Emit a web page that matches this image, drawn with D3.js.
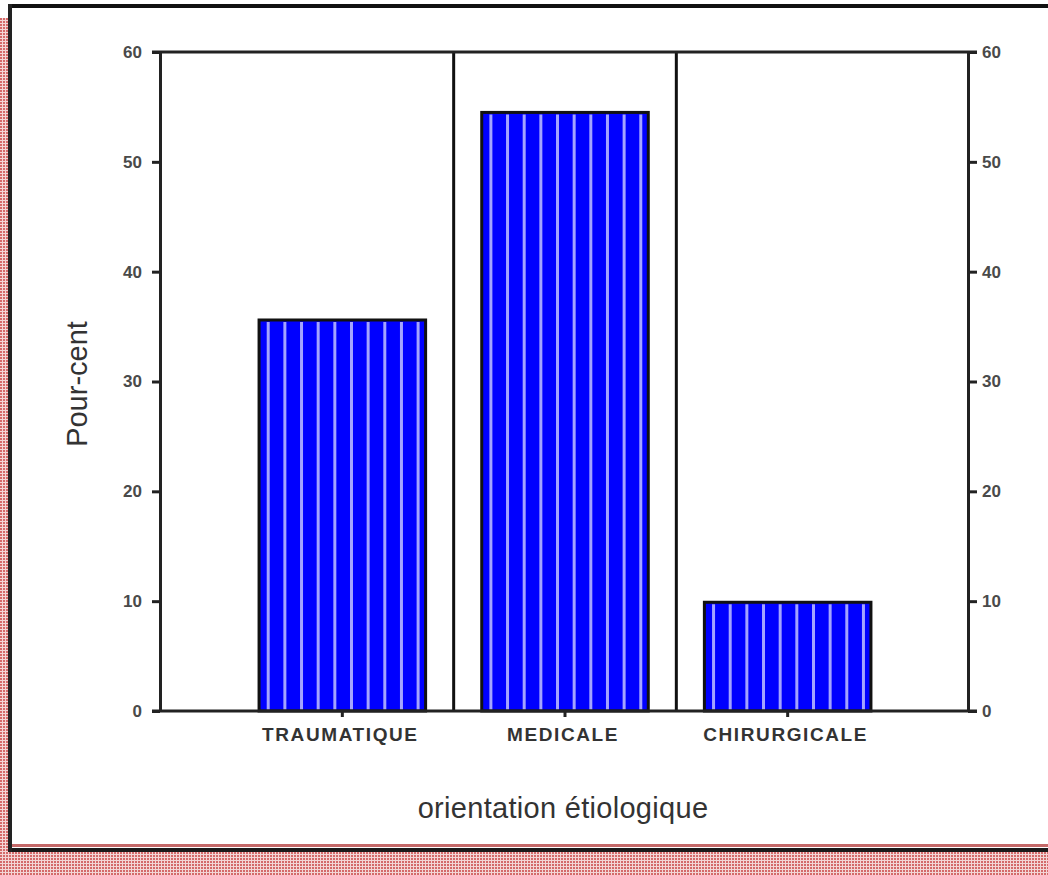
<!DOCTYPE html>
<html>
<head>
<meta charset="utf-8">
<script src="https://cdn.jsdelivr.net/npm/d3@7"></script>
<style>
  body { margin: 0; background: #fff; }
  svg { display: block; }
</style>
</head>
<body>
<div id="chart"></div>
<script>
const categories = ["TRAUMATIQUE", "MEDICALE", "CHIRURGICALE"];
const values = [35.6, 54.5, 9.9];
const yTicks = [0, 10, 20, 30, 40, 50, 60];
const xTitle = "orientation étiologique";
const yTitle = "Pour-cent";

const W = 1048, H = 875;
const plotLeft = 160, plotRight = 968, plotTop = 52, plotBottom = 711;

const svg = d3.select("#chart").append("svg")
  .attr("width", W).attr("height", H);

// dotted red frame pattern
const defs = svg.append("defs");
const pat = defs.append("pattern")
  .attr("id", "dots").attr("width", 3).attr("height", 3)
  .attr("patternUnits", "userSpaceOnUse");
pat.append("rect").attr("width", 3).attr("height", 3).attr("fill", "#f3d6d6");
pat.append("rect").attr("width", 2).attr("height", 2).attr("fill", "#d46a6a");

svg.append("rect").attr("width", W).attr("height", H).attr("fill", "#fff");
svg.append("rect").attr("x", 0).attr("y", 18).attr("width", 8).attr("height", H - 18).attr("fill", "url(#dots)");
svg.append("rect").attr("x", 0).attr("y", 852).attr("width", W).attr("height", H - 852).attr("fill", "url(#dots)");
svg.append("rect").attr("x", 9).attr("y", 844).attr("width", W - 9).attr("height", 3).attr("fill", "#c46868");
svg.append("rect").attr("x", 9).attr("y", 848).attr("width", W - 9).attr("height", 4).attr("fill", "#1a1a1a");
svg.append("rect").attr("x", 8).attr("y", 4).attr("width", W - 8).attr("height", 4).attr("fill", "#111");
svg.append("rect").attr("x", 8).attr("y", 4).attr("width", 4).attr("height", 848).attr("fill", "#222");

const x = d3.scaleBand().domain(categories).range([231, 899]).padding(0);
const y = d3.scaleLinear().domain([0, 60]).range([plotBottom, plotTop]);

const inset = x.bandwidth() * 0.126;

// bars
const bars = svg.append("g").selectAll("g").data(categories).join("g");
bars.append("rect")
  .attr("x", d => x(d) + inset)
  .attr("y", (d, i) => y(values[i]))
  .attr("width", x.bandwidth() - 2 * inset)
  .attr("height", (d, i) => y(0) - y(values[i]))
  .attr("fill", "#0000ff");
bars.each(function(d, i) {
  const g = d3.select(this);
  const bw = x.bandwidth() - 2 * inset;
  d3.range(10).forEach(k => {
    const sx = x(d) + inset + (k + 0.55) * bw / 10;
    g.append("line")
      .attr("x1", sx).attr("x2", sx)
      .attr("y1", y(values[i]) + 2).attr("y2", y(0))
      .attr("stroke", "#a4a4ff").attr("stroke-width", 3);
  });
});
bars.append("rect")
  .attr("x", d => x(d) + inset)
  .attr("y", (d, i) => y(values[i]))
  .attr("width", x.bandwidth() - 2 * inset)
  .attr("height", (d, i) => y(0) - y(values[i]))
  .attr("fill", "none").attr("stroke", "#111").attr("stroke-width", 3);

// dividers between categories
svg.append("g").selectAll("line").data(categories.slice(1)).join("line")
  .attr("x1", d => x(d)).attr("x2", d => x(d))
  .attr("y1", plotTop).attr("y2", plotBottom)
  .attr("stroke", "#111").attr("stroke-width", 3);

// frame top line
svg.append("line").attr("x1", 152).attr("x2", 977).attr("y1", plotTop).attr("y2", plotTop)
  .attr("stroke", "#222").attr("stroke-width", 3);

// axes
const axisFont = "'Liberation Sans', Arial, sans-serif";
const left = svg.append("g").attr("transform", `translate(${plotLeft},0)`)
  .call(d3.axisLeft(y).tickValues(yTicks).tickSize(8).tickSizeOuter(0).tickPadding(10));
const right = svg.append("g").attr("transform", `translate(${plotRight},0)`)
  .call(d3.axisRight(y).tickValues(yTicks).tickSize(9).tickSizeOuter(0).tickPadding(5));
const bottom = svg.append("g").attr("transform", `translate(0,${plotBottom})`)
  .call(d3.axisBottom(x).tickSize(6).tickSizeOuter(0).tickPadding(11));

[left, right, bottom].forEach(a => {
  a.select(".domain").attr("stroke", "#222").attr("stroke-width", 3);
  a.selectAll(".tick line").attr("stroke", "#222").attr("stroke-width", 3);
});
bottom.select(".domain").remove();
svg.append("line").attr("x1", 152).attr("x2", 977).attr("y1", plotBottom).attr("y2", plotBottom)
  .attr("stroke", "#222").attr("stroke-width", 3);

[left, right].forEach(a => {
  a.selectAll(".tick text")
    .attr("font-family", axisFont).attr("font-size", 17).attr("font-weight", "bold")
    .attr("fill", "#4a4a4a");
});
bottom.selectAll(".tick text")
  .attr("font-family", axisFont).attr("font-size", 19).attr("font-weight", "bold")
  .attr("letter-spacing", 1.6).attr("fill", "#333")
  .attr("dx", -2);

// titles
svg.append("text")
  .attr("x", 563).attr("y", 818)
  .attr("text-anchor", "middle")
  .attr("font-family", axisFont).attr("font-size", 29)
  .attr("letter-spacing", 0.3)
  .attr("fill", "#333")
  .text(xTitle);

svg.append("text")
  .attr("transform", "translate(87,384) rotate(-90)")
  .attr("text-anchor", "middle")
  .attr("font-family", axisFont).attr("font-size", 29)
  .attr("fill", "#333")
  .text(yTitle);
</script>
</body>
</html>
